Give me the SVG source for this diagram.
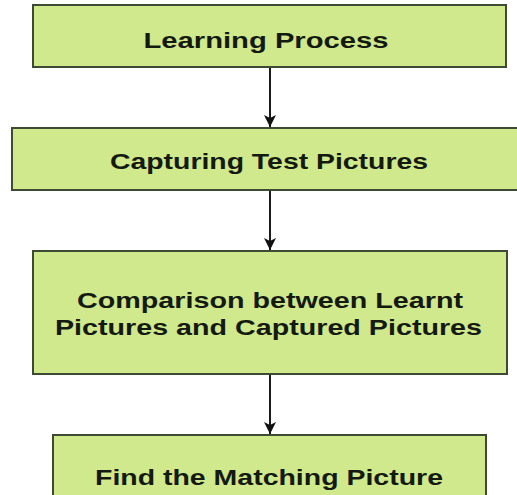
<svg xmlns="http://www.w3.org/2000/svg" width="517" height="495" viewBox="0 0 517 495">
  <defs>
    <style>
      .box { fill: #cfe98c; stroke: #3f4a35; stroke-width: 2; }
      .lbl { font-family: "Liberation Sans", Arial, sans-serif; font-weight: bold; font-size: 22px; fill: #141a10; text-anchor: middle; }
      .edge { stroke: #1a1a1a; stroke-width: 2; fill: none; }
    </style>
    <marker id="arrow" viewBox="0 0 12 12" refX="12" refY="6" markerWidth="12" markerHeight="12" markerUnits="userSpaceOnUse" orient="auto">
      <path d="M0,0 L12,6 L0,12 L3,6 Z" fill="#111"/>
    </marker>
  </defs>
  <rect width="517" height="495" fill="#ffffff"/>
  <g id="connectors">
    <line class="edge" x1="270" y1="67" x2="270" y2="127" marker-end="url(#arrow)"/>
    <line class="edge" x1="270" y1="190" x2="270" y2="250" marker-end="url(#arrow)"/>
    <line class="edge" x1="270" y1="374" x2="270" y2="434" marker-end="url(#arrow)"/>
  </g>
  <g id="node-learning">
    <rect class="box" x="33" y="5" width="473" height="62"/>
    <text class="lbl" x="266" y="48" textLength="245" lengthAdjust="spacingAndGlyphs">Learning Process</text>
  </g>
  <g id="node-capturing">
    <rect class="box" x="12" y="128" width="510" height="62"/>
    <text class="lbl" x="269" y="169" textLength="318" lengthAdjust="spacingAndGlyphs">Capturing Test Pictures</text>
  </g>
  <g id="node-comparison">
    <rect class="box" x="33" y="251" width="474" height="123"/>
    <text class="lbl" x="270" y="308" textLength="386" lengthAdjust="spacingAndGlyphs">Comparison between Learnt</text>
    <text class="lbl" x="268.5" y="335" textLength="427" lengthAdjust="spacingAndGlyphs">Pictures and Captured Pictures</text>
  </g>
  <g id="node-find">
    <rect class="box" x="53" y="435" width="433" height="70"/>
    <text class="lbl" x="269" y="485" textLength="348" lengthAdjust="spacingAndGlyphs">Find the Matching Picture</text>
  </g>
</svg>
